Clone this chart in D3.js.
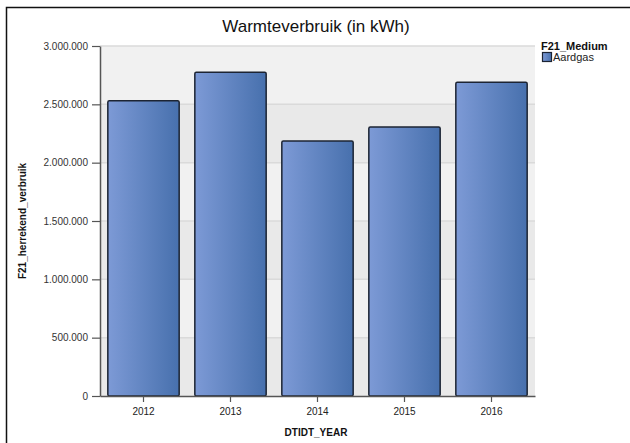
<!DOCTYPE html>
<html>
<head>
<meta charset="utf-8">
<script src="https://cdn.jsdelivr.net/npm/d3@7"></script>
<style>
	body { margin: 0; background: #fff; }
	text { font-family: 'Liberation Sans', Arial, sans-serif; }
</style>
</head>
<body>
<div id="content"></div>
<script>
// chart data
let years = ['2012', '2013', '2014', '2015', '2016']
let verbruik = [2530000, 2775000, 2185000, 2305000, 2690000]
let y_ticks = [0, 500000, 1000000, 1500000, 2000000, 2500000, 3000000]
let series_name = 'Aardgas'

let WIDTH = 630
let HEIGHT = 443
let PLOT = { left: 100, right: 535, top: 46, bottom: 396 }

let svg = d3.select('#content').append('svg')
	.attr('width', WIDTH)
	.attr('height', HEIGHT)

let defs = svg.append('defs')
let grad = defs.append('linearGradient')
	.attr('id', 'bar_grad')
	.attr('x1', '0%').attr('x2', '100%')
	.attr('y1', '0%').attr('y2', '0%')
grad.append('stop').attr('offset', '0%').attr('stop-color', '#7d9ad6')
grad.append('stop').attr('offset', '100%').attr('stop-color', '#4770ad')

// outer frame
svg.append('rect')
	.attr('x', 6.5).attr('y', 7.5)
	.attr('width', 640).attr('height', 450)
	.attr('fill', 'none')
	.attr('stroke', '#111')
	.attr('stroke-width', 1.5)

let x = d3.scaleBand()
	.domain(years)
	.range([PLOT.left, PLOT.right])
	.paddingInner(0.18)
	.paddingOuter(0.09)

let y = d3.scaleLinear()
	.domain([0, 3000000])
	.range([PLOT.bottom, PLOT.top])

// plot background, alternating bands
let bands = d3.pairs(y_ticks)
svg.append('g').selectAll('rect')
	.data(bands)
	.enter().append('rect')
		.attr('x', PLOT.left)
		.attr('y', (d) => { return y(d[1]) })
		.attr('width', PLOT.right - PLOT.left)
		.attr('height', (d) => { return y(d[0]) - y(d[1]) })
		.attr('fill', (d, i) => { return i % 2 === 0 ? '#e9e9e9' : '#f1f1f1' })

// grid lines
svg.append('g').selectAll('line')
	.data(y_ticks.slice(1))
	.enter().append('line')
		.attr('x1', PLOT.left).attr('x2', PLOT.right)
		.attr('y1', (d) => { return y(d) }).attr('y2', (d) => { return y(d) })
		.attr('stroke', '#dadada')
		.attr('stroke-width', 1.5)

// bars
svg.append('g').selectAll('rect')
	.data(verbruik)
	.enter().append('rect')
		.attr('x', (d, i) => { return x(years[i]) })
		.attr('y', (d) => { return y(d) })
		.attr('width', x.bandwidth())
		.attr('height', (d) => { return y(0) - y(d) })
		.attr('rx', 1.5)
		.attr('fill', 'url(#bar_grad)')
		.attr('stroke', '#1c2433')
		.attr('stroke-width', 1.5)

let fmt = (v) => { return d3.format(',')(v).replace(/,/g, '.') }

// y axis
let y_axis = svg.append('g')
	.attr('transform', `translate(${PLOT.left}, 0)`)
	.call(d3.axisLeft(y).tickValues(y_ticks).tickFormat(fmt).tickSize(8).tickSizeOuter(0))
y_axis.select('.domain').attr('stroke', '#555').attr('stroke-width', 1.5)
y_axis.selectAll('.tick line').attr('stroke', '#555').attr('stroke-width', 1.2)
y_axis.selectAll('.tick text')
	.attr('x', -12)
	.attr('fill', '#333')
	.style('font-size', '10px')

// x axis
let x_axis = svg.append('g')
	.attr('transform', `translate(0, ${PLOT.bottom})`)
	.call(d3.axisBottom(x).tickSize(6).tickSizeOuter(0))
x_axis.select('.domain').attr('stroke', '#555').attr('stroke-width', 1.5)
x_axis.selectAll('.tick line').attr('stroke', '#555').attr('stroke-width', 1.2)
x_axis.selectAll('.tick text')
	.attr('y', 12)
	.attr('fill', '#222')
	.style('font-size', '10px')

// titles
svg.append('text')
	.attr('x', 316).attr('y', 32)
	.attr('text-anchor', 'middle')
	.style('font-size', '17px')
	.attr('fill', '#111')
	.text('Warmteverbruik (in kWh)')

svg.append('text')
	.attr('x', 316).attr('y', 436)
	.attr('text-anchor', 'middle')
	.style('font-size', '10px')
	.style('font-weight', 'bold')
	.attr('fill', '#111')
	.text('DTIDT_YEAR')

svg.append('text')
	.attr('transform', `translate(26, ${(PLOT.top + PLOT.bottom) / 2}) rotate(-90)`)
	.attr('text-anchor', 'middle')
	.style('font-size', '10px')
	.style('font-weight', 'bold')
	.attr('fill', '#111')
	.text('F21_herrekend_verbruik')

// legend
let legend = svg.append('g').attr('transform', 'translate(541, 0)')
legend.append('text')
	.attr('x', 0).attr('y', 50)
	.style('font-size', '11px')
	.style('font-weight', 'bold')
	.attr('fill', '#111')
	.text('F21_Medium')
legend.append('rect')
	.attr('x', 1.5).attr('y', 52.5)
	.attr('width', 9).attr('height', 9)
	.attr('fill', 'url(#bar_grad)')
	.attr('stroke', '#1c2433')
	.attr('stroke-width', 1.2)
legend.append('text')
	.attr('x', 12).attr('y', 61)
	.style('font-size', '11px')
	.attr('fill', '#222')
	.text(series_name)
</script>
</body>
</html>
